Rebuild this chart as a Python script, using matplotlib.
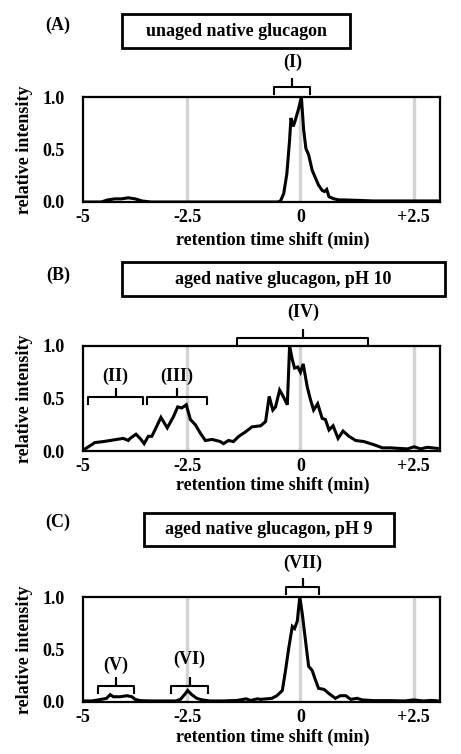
import matplotlib
matplotlib.use("Agg")
import matplotlib.pyplot as plt
from matplotlib.patches import Rectangle

plt.rcParams['font.family'] = ['Liberation Serif', 'DejaVu Serif']
plt.rcParams['font.weight'] = 'bold'
plt.rcParams['axes.labelweight'] = 'bold'
plt.rcParams['font.size'] = 13

# panel A - unaged native glucagon
xa = [-4.8, -4.4, -4.25, -4.1, -3.95, -3.8, -3.65, -3.5, -3.3, -2.0, -1.0, -0.5,
      -0.44, -0.37, -0.30, -0.24, -0.21, -0.16, -0.12, -0.04, 0.02, 0.07, 0.12, 0.18,
      0.26, 0.33, 0.40, 0.48, 0.53, 0.58, 0.63, 0.74, 0.85, 0.95, 1.3, 1.6, 2.0, 2.4, 2.8, 3.05]
ya = [0.0, 0.0, 0.02, 0.03, 0.03, 0.04, 0.03, 0.01, 0.0, 0.0, 0.0, 0.0,
      0.01, 0.08, 0.27, 0.59, 0.80, 0.72, 0.77, 0.89, 1.0, 0.69, 0.51, 0.45,
      0.30, 0.23, 0.16, 0.11, 0.10, 0.12, 0.05, 0.03, 0.02, 0.02, 0.015, 0.01, 0.01, 0.01, 0.01, 0.01]

# panel B - aged, pH 10
xb = [-4.79, -4.68, -4.54, -4.35, -4.20, -4.06, -3.91, -3.80, -3.76, -3.63, -3.54, -3.45,
      -3.36, -3.28, -3.19, -3.08, -2.94, -2.80, -2.71, -2.62, -2.52, -2.43, -2.32, -2.21,
      -2.10, -1.95, -1.77, -1.70, -1.59, -1.48, -1.36, -1.22, -1.07, -0.88, -0.77, -0.69,
      -0.61, -0.55, -0.46, -0.38, -0.29, -0.24, -0.18, -0.13, -0.06, 0.0, 0.06, 0.15,
      0.22, 0.29, 0.38, 0.48, 0.55, 0.63, 0.72, 0.83, 0.94, 1.07, 1.22, 1.40,
      1.62, 1.81, 1.99, 2.17, 2.36, 2.51, 2.65, 2.80, 3.02]
yb = [0.01, 0.04, 0.08, 0.09, 0.10, 0.11, 0.12, 0.10, 0.12, 0.16, 0.12, 0.07,
      0.14, 0.14, 0.22, 0.32, 0.22, 0.33, 0.42, 0.41, 0.44, 0.30, 0.25, 0.17,
      0.10, 0.11, 0.09, 0.07, 0.10, 0.09, 0.14, 0.18, 0.23, 0.24, 0.28, 0.52,
      0.39, 0.42, 0.58, 0.52, 0.44, 1.0, 0.87, 0.79, 0.80, 0.75, 0.83, 0.61,
      0.49, 0.39, 0.45, 0.31, 0.30, 0.20, 0.24, 0.12, 0.19, 0.14, 0.10, 0.09,
      0.06, 0.03, 0.03, 0.025, 0.02, 0.04, 0.02, 0.035, 0.025]

# panel C - aged, pH 9
xc = [-4.8, -4.6, -4.46, -4.28, -4.20, -4.13, -3.98, -3.83, -3.72, -3.65, -3.54, -3.3,
      -3.0, -2.75, -2.65, -2.54, -2.49, -2.40, -2.29, -2.17, -2.0, -1.7, -1.4, -1.2,
      -1.1, -0.95, -0.88, -0.75, -0.63, -0.52, -0.40, -0.33, -0.26, -0.18, -0.13, -0.07,
      -0.015, 0.04, 0.11, 0.18, 0.26, 0.33, 0.40, 0.52, 0.63, 0.77, 0.88, 1.00,
      1.11, 1.25, 1.36, 1.62, 1.99, 2.3, 2.5, 2.7, 2.9, 3.05]
yc = [0.01, 0.01, 0.02, 0.035, 0.07, 0.05, 0.05, 0.06, 0.05, 0.025, 0.013, 0.01,
      0.01, 0.01, 0.025, 0.08, 0.11, 0.07, 0.035, 0.02, 0.01, 0.01, 0.015, 0.03,
      0.015, 0.03, 0.025, 0.03, 0.035, 0.06, 0.11, 0.30, 0.51, 0.72, 0.70, 0.77,
      1.0, 0.84, 0.59, 0.34, 0.30, 0.21, 0.13, 0.12, 0.08, 0.035, 0.06, 0.06,
      0.025, 0.035, 0.02, 0.013, 0.013, 0.01, 0.02, 0.01, 0.015, 0.01]

titles = ['unaged native glucagon', 'aged native glucagon, pH 10', 'aged native glucagon, pH 9']
letters = ['(A)', '(B)', '(C)']
xtick_vals = [-4.8, -2.5, 0, 2.5]
xtick_labels = ['-5', '-2.5', '0', '+2.5']
ref_lines = [-2.5, 0, 2.5]

# brackets: (start, end, height, label, label height)
brackets = [
    [(-0.58, 0.22, 1.095, '(I)', 1.33)],
    [(-1.39, 1.50, 1.076, '(IV)', 1.32),
     (-4.69, -3.47, 0.51, '(II)', 0.71),
     (-3.38, -2.06, 0.51, '(III)', 0.71)],
    [(-0.33, 0.42, 1.095, '(VII)', 1.32),
     (-4.47, -3.67, 0.15, '(V)', 0.35),
     (-2.85, -2.04, 0.15, '(VI)', 0.41)],
]

fig = plt.figure(figsize=(4.61, 7.54), dpi=100)
W, H = 461.0, 754.0

ax_bottoms = [202, 451, 702]          # px from top
boxes = [(122, 14, 228, 34), (122, 262, 323, 34), (144, 513, 250, 33)]
letter_y = [25, 275, 522]
xlab_y = [-0.28, -0.24, -0.25]
data = [(xa, ya), (xb, yb), (xc, yc)]

for i in range(3):
    ax = fig.add_axes([83 / W, 1 - ax_bottoms[i] / H, 357 / W, 105 / H])
    for r in ref_lines:
        ax.axvline(r, color='#d3d3d3', lw=2.4, zorder=1)
    x, y = data[i]
    ax.plot(x, y, color='black', lw=2.2, zorder=3, solid_joinstyle='miter')
    ax.set_xlim(-4.8, 3.08)
    ax.set_ylim(0, 1)
    ax.set_xticks(xtick_vals)
    ax.set_xticklabels(xtick_labels)
    ax.set_yticks([0, 0.5, 1.0])
    ax.set_yticklabels(['0.0', '0.5', '1.0'])
    ax.tick_params(axis='x', length=0, pad=5)
    ax.tick_params(axis='y', length=0, pad=13)
    for s in ax.spines.values():
        s.set_linewidth(1.6)
    ax.set_xlabel('retention time shift (min)', fontweight='bold')
    ax.set_ylabel('relative intensity', fontweight='bold')
    ax.xaxis.set_label_coords(0.532, xlab_y[i])
    ax.yaxis.set_label_coords(-0.14, 0.5)

    for (x0, x1, yb_, lab, ly) in brackets[i]:
        xm = (x0 + x1) / 2
        ax.plot([x0, x0, xm, xm, xm, x1, x1],
                [yb_ - 0.065, yb_, yb_, yb_ + 0.08, yb_, yb_, yb_ - 0.065],
                color='black', lw=1.5, clip_on=False, solid_joinstyle='round')
        ax.text(xm, ly, lab, ha='center', va='center', clip_on=False)

    bx, by, bw, bh = boxes[i]
    fig.patches.append(Rectangle((bx / W, 1 - (by + bh) / H), bw / W, bh / H,
                                 transform=fig.transFigure, fill=False,
                                 edgecolor='black', lw=2.0))
    fig.text((bx + bw / 2) / W, 1 - (by + bh / 2) / H, titles[i],
             ha='center', va='center')
    fig.text(58 / W, 1 - letter_y[i] / H, letters[i], ha='center', va='center')

fig.savefig('out.png', dpi=100)
